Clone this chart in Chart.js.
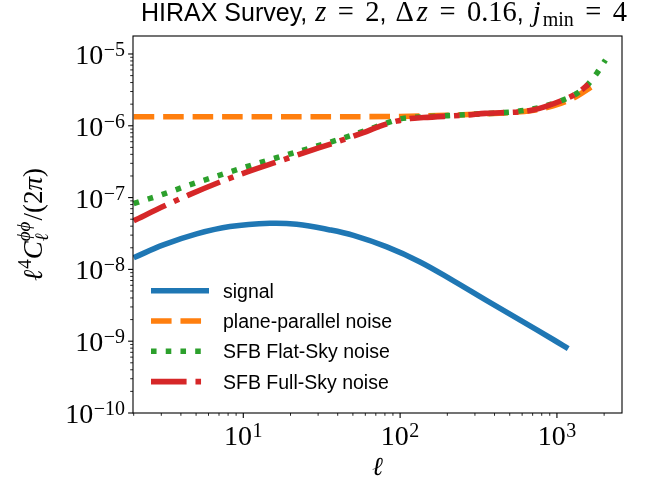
<!DOCTYPE html>
<html>
<head>
<meta charset="utf-8">
<script src="https://cdn.jsdelivr.net/npm/chart.js@4/dist/chart.umd.min.js"></script>
<style>
  html, body { margin: 0; padding: 0; background: #fff; }
  canvas { display: block; }
</style>
</head>
<body>
<canvas id="chart" width="656" height="483"></canvas>
<script>
// Multipole ℓ and ℓ⁴ C_ℓ^{φφ} / (2π) for each curve
const signalEll = [2, 3.09, 5.04, 8.22, 14.8, 21.9, 35.7, 50.4, 82.3, 134, 219, 357, 583, 951, 1180];
const signalVal = [1.455e-8, 2.193e-8, 3.119e-8, 3.945e-8, 4.385e-8, 4.246e-8, 3.548e-8, 2.972e-8, 2.056e-8, 1.271e-8, 6.92e-9, 3.67e-9, 1.97e-9, 1.047e-9, 7.85e-10];

const planeEll = [2, 10, 50, 100, 200, 324, 500, 676, 946, 1270, 1670];
const planeVal = [1.34e-6, 1.34e-6, 1.34e-6, 1.35e-6, 1.40e-6, 1.46e-6, 1.53e-6, 1.62e-6, 1.89e-6, 2.42e-6, 3.51e-6];

const flatEll = [2, 2.36, 2.94, 4.45, 6.93, 10.5, 16.3, 25.4, 39.4, 61.3, 80, 100, 150, 280, 690, 1100, 1350, 1550, 1800, 2040];
const flatVal = [8.28e-8, 9.27e-8, 1.076e-7, 1.479e-7, 2.018e-7, 2.692e-7, 3.589e-7, 4.732e-7, 6.31e-7, 8.71e-7, 1.072e-6, 1.245e-6, 1.337e-6, 1.439e-6, 1.698e-6, 2.301e-6, 2.851e-6, 3.63e-6, 5.43e-6, 8.24e-6];

const fullEll = [2, 3.24, 4.46, 7.45, 10.5, 17.6, 24.8, 40.4, 58.3, 74.5, 95, 116, 141, 267, 348, 583, 703, 842, 1100, 1343, 1592];
const fullVal = [4.775e-8, 7.89e-8, 1.081e-7, 1.718e-7, 2.265e-7, 3.311e-7, 4.266e-7, 6.053e-7, 8.035e-7, 9.886e-7, 1.161e-6, 1.259e-6, 1.303e-6, 1.413e-6, 1.489e-6, 1.567e-6, 1.66e-6, 1.849e-6, 2.30e-6, 2.84e-6, 3.78e-6];

const seriesLabels = ['signal', 'plane-parallel noise', 'SFB Flat-Sky noise', 'SFB Full-Sky noise'];

// Decade exponents that get a labelled major tick
const xTickExponents = [1, 2, 3];
const yTickExponents = [-10, -9, -8, -7, -6, -5];

const SERIF = '"Liberation Serif", "DejaVu Serif", serif';
const SANS = '"Liberation Sans", "DejaVu Sans", sans-serif';
const LW = 5.56;

const pts = (xs, ys) => xs.map((x, i) => ({ x, y: ys[i] }));

// Mixed-font text runs: dx pads before a piece, dy raises/lowers it,
// hold stacks the next piece at the same x (sub + superscript).
function layoutRuns(ctx, runs) {
  let x = 0, held = 0;
  const items = [];
  for (const r of runs) {
    ctx.font = r.font;
    const w = ctx.measureText(r.text).width;
    items.push({ ...r, x: x + (r.dx || 0) });
    if (r.hold) { held = w; }
    else { x += Math.max(w, held) + (r.dx || 0); held = 0; }
  }
  return { items, width: x };
}
function drawRuns(ctx, runs, x, y, align) {
  const L = layoutRuns(ctx, runs);
  const x0 = align === 'center' ? x - L.width / 2 : align === 'right' ? x - L.width : x;
  ctx.textAlign = 'left';
  ctx.textBaseline = 'alphabetic';
  ctx.fillStyle = '#000';
  for (const it of L.items) {
    ctx.font = it.font;
    ctx.fillText(it.text, x0 + it.x, y + (it.dy || 0));
  }
  return L.width;
}
function powerLabel(exp) {
  const e = exp < 0 ? '\u2212' + Math.abs(exp) : String(exp);
  return [
    { text: '10', font: `28px ${SERIF}` },
    { text: e, font: `20px ${SERIF}`, dy: -8, dx: 0.5 }
  ];
}

const axesPlugin = {
  id: 'axesDecor',
  afterDatasetsDraw(chart) {
    const ctx = chart.ctx;
    const a = chart.chartArea;
    const xs = chart.scales.x, ys = chart.scales.y;
    ctx.save();

    // frame
    ctx.strokeStyle = '#000';
    ctx.lineWidth = 1.1;
    ctx.strokeRect(a.left, a.top, a.right - a.left, a.bottom - a.top);

    // major and minor ticks on the bottom and left axes
    const tick = (x1, y1, x2, y2, w) => {
      ctx.lineWidth = w;
      ctx.beginPath(); ctx.moveTo(x1, y1); ctx.lineTo(x2, y2); ctx.stroke();
    };
    for (let e = -1; e <= 4; e++) {
      for (let k = 1; k <= 9; k++) {
        const v = k * Math.pow(10, e);
        if (v < xs.min || v > xs.max) continue;
        const px = xs.getPixelForValue(v);
        if (k === 1) tick(px, a.bottom, px, a.bottom + 4.9, 1.1);
        else tick(px, a.bottom, px, a.bottom + 2.8, 0.85);
      }
    }
    for (let e = -11; e <= -4; e++) {
      for (let k = 1; k <= 9; k++) {
        const v = k * Math.pow(10, e);
        if (v < ys.min * 0.999 || v > ys.max) continue;
        const py = ys.getPixelForValue(v);
        if (k === 1) tick(a.left, py, a.left - 4.9, py, 1.1);
        else tick(a.left, py, a.left - 2.8, py, 0.85);
      }
    }

    // tick labels
    xTickExponents.forEach(e => {
      const px = xs.getPixelForValue(Math.pow(10, e));
      drawRuns(ctx, powerLabel(e), px, 445, 'center');
    });
    yTickExponents.forEach(e => {
      const py = ys.getPixelForValue(Math.pow(10, e));
      drawRuns(ctx, powerLabel(e), a.left - 8, py + 10, 'right');
    });

    // axis titles
    drawRuns(ctx, [{ text: '\u2113', font: `italic 26px ${SERIF}` }], (a.left + a.right) / 2, 475, 'center');

    ctx.save();
    ctx.translate(42, (a.top + a.bottom) / 2);
    ctx.rotate(-Math.PI / 2);
    drawRuns(ctx, [
      { text: '\u2113', font: `italic 27px ${SERIF}` },
      { text: '4', font: `19px ${SERIF}`, dy: -11, dx: 1 },
      { text: 'C', font: `italic 27px ${SERIF}` },
      { text: '\u2113', font: `italic 19px ${SERIF}`, dy: 6, hold: true },
      { text: '\u03D5\u03D5', font: `italic 19px ${SERIF}`, dy: -12 },
      { text: '/(2', font: `27px ${SERIF}`, dx: 1 },
      { text: '\u03C0', font: `italic 27px ${SERIF}` },
      { text: ')', font: `27px ${SERIF}` }
    ], 0, 0, 'center');
    ctx.restore();

    // title
    const M = `28.5px ${SERIF}`, MI = `italic 28.5px ${SERIF}`, S = `25px ${SANS}`;
    const eq = 11.5;
    drawRuns(ctx, [
      { text: 'HIRAX Survey, ', font: S },
      { text: 'z', font: MI, dx: 1 },
      { text: '=', font: M, dx: eq },
      { text: '2', font: M, dx: eq },
      { text: ', ', font: S },
      { text: '\u0394', font: M, dx: 2 },
      { text: 'z', font: MI, dx: 3 },
      { text: '=', font: M, dx: eq },
      { text: '0.16', font: M, dx: eq },
      { text: ', ', font: S },
      { text: 'j', font: MI, dx: 2 },
      { text: 'min', font: `20px ${SERIF}`, dy: 4.5, dx: 2 },
      { text: '=', font: M, dx: eq },
      { text: '4', font: M, dx: eq }
    ], 141, 21, 'left');

    // legend
    chart.data.datasets.forEach((ds, i) => {
      const y = 290.7 + 30.3 * i;
      ctx.strokeStyle = ds.borderColor;
      ctx.lineWidth = ds.borderWidth;
      ctx.lineCap = 'butt';
      ctx.setLineDash(ds.borderDash || []);
      ctx.beginPath(); ctx.moveTo(151, y); ctx.lineTo(209, y); ctx.stroke();
      ctx.setLineDash([]);
      ctx.font = `19.5px ${SANS}`;
      ctx.fillStyle = '#000';
      ctx.textAlign = 'left';
      ctx.textBaseline = 'alphabetic';
      ctx.fillText(ds.label, 223, y + 7);
    });

    ctx.restore();
  }
};

function build() {
  new Chart(document.getElementById('chart'), {
    type: 'line',
    data: {
      datasets: [
        { label: seriesLabels[0], data: pts(signalEll, signalVal), borderColor: '#1f77b4', borderWidth: LW, borderDash: [], order: 4,
          cubicInterpolationMode: 'default', tension: 0.4 },
        { label: seriesLabels[1], data: pts(planeEll, planeVal), borderColor: '#ff7f0e', borderWidth: LW, borderDash: [3.7 * LW, 1.6 * LW], order: 3 },
        { label: seriesLabels[2], data: pts(flatEll, flatVal), borderColor: '#2ca02c', borderWidth: LW, borderDash: [1 * LW, 1.65 * LW], order: 2 },
        { label: seriesLabels[3], data: pts(fullEll, fullVal), borderColor: '#d62728', borderWidth: LW, borderDash: [6.4 * LW, 1.6 * LW, 1 * LW, 1.6 * LW], order: 1 }
      ]
    },
    options: {
      responsive: false,
      animation: false,
      devicePixelRatio: 1,
      layout: { padding: { left: 133, right: 34, top: 36, bottom: 70 } },
      elements: {
        point: { radius: 0, hoverRadius: 0 },
        line: { cubicInterpolationMode: 'monotone', borderCapStyle: 'butt', fill: false }
      },
      scales: {
        x: { type: 'logarithmic', min: 1.98, max: 2600, display: false },
        y: { type: 'logarithmic', min: 1e-10, max: 1.78e-5, display: false }
      },
      plugins: { legend: { display: false }, title: { display: false }, tooltip: { enabled: false } }
    },
    plugins: [axesPlugin]
  });
}

if (document.fonts && document.fonts.load) {
  Promise.all([
    document.fonts.load(`28px ${SERIF}`),
    document.fonts.load(`italic 28px ${SERIF}`),
    document.fonts.load(`20px ${SANS}`)
  ]).then(build, build);
} else {
  build();
}
</script>
</body>
</html>
